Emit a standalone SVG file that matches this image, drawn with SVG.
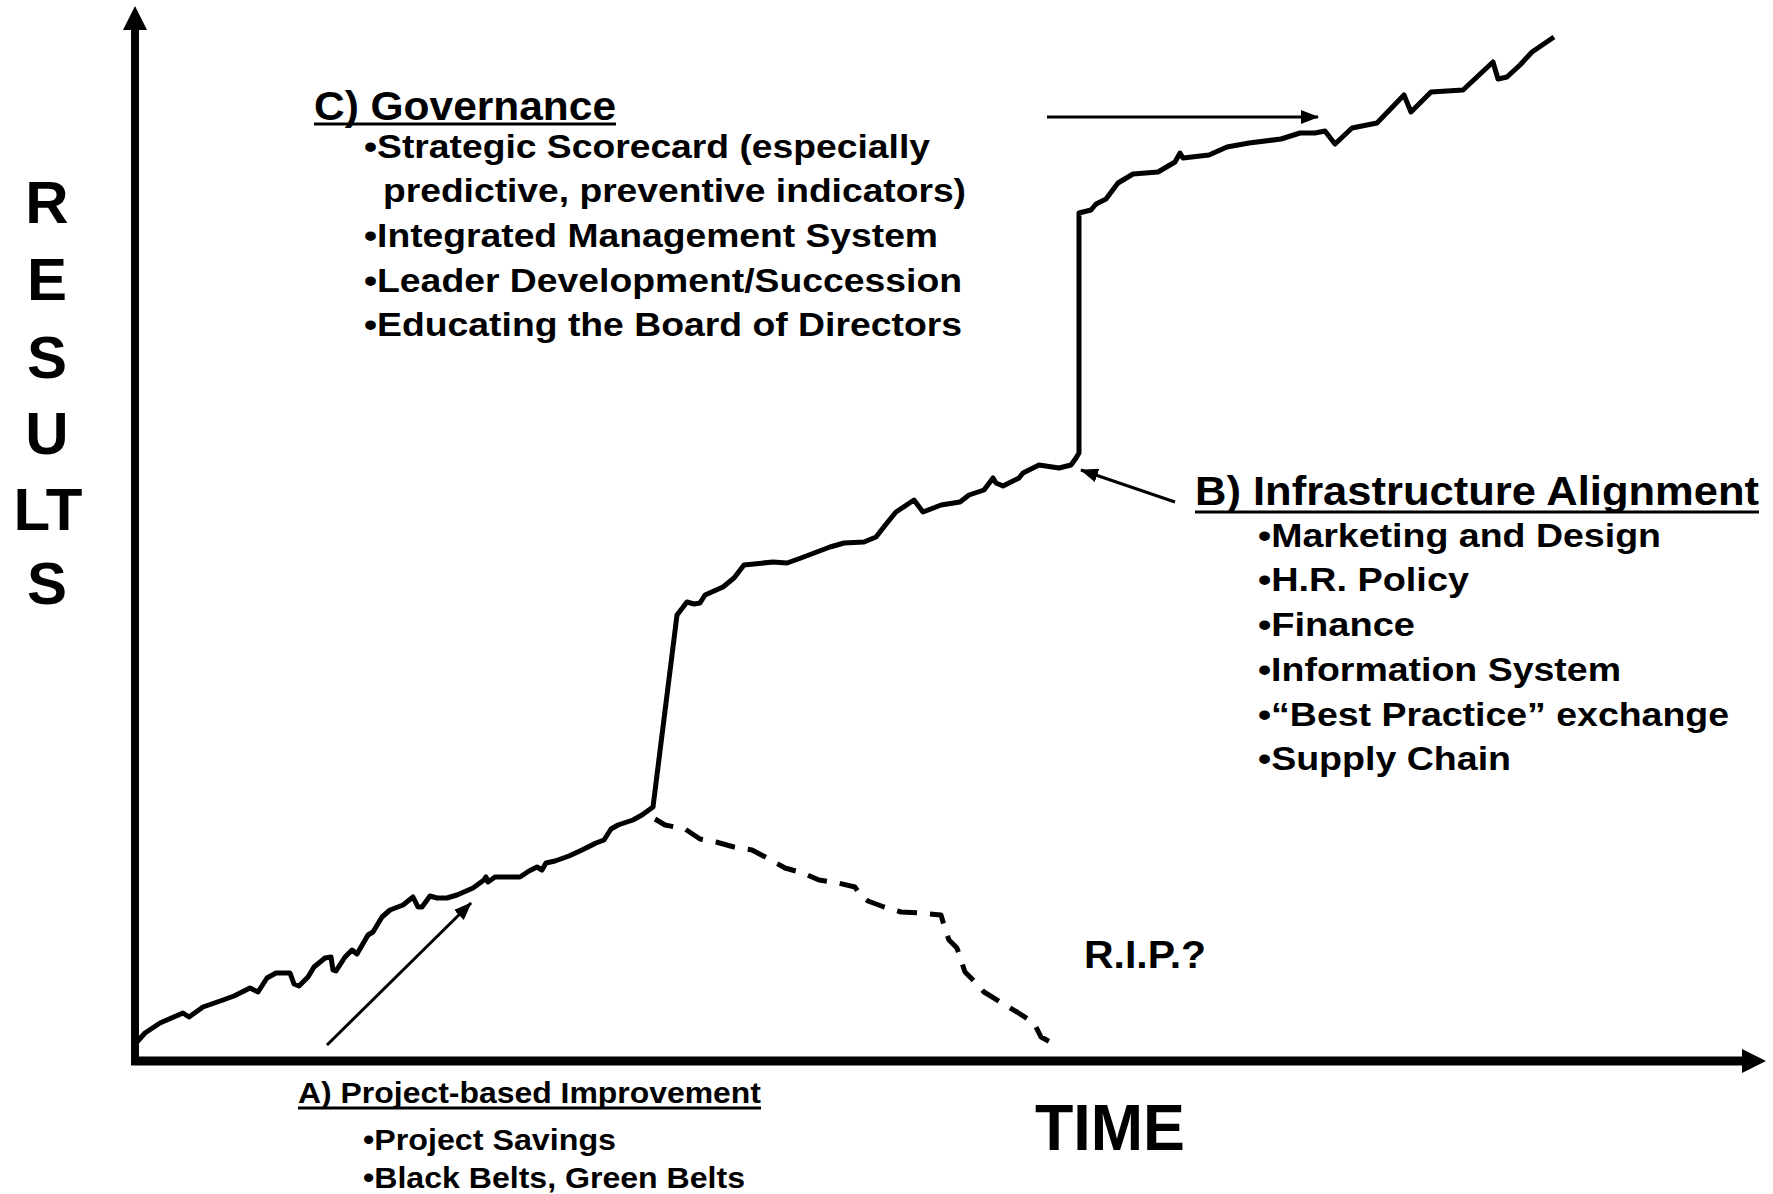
<svg xmlns="http://www.w3.org/2000/svg" width="1773" height="1194" viewBox="0 0 1773 1194">
<style>
.t{font-family:"Liberation Sans Narrow","Liberation Sans",Arial,sans-serif;font-weight:bold;fill:#000}
.w{font-family:"Liberation Sans",Arial,sans-serif;font-weight:bold;fill:#000}
.h{font-size:40px}
.b{font-size:34px}
.a{font-size:30px}
.ul{stroke:#000;stroke-width:3}
.curve{fill:none;stroke:#000;stroke-width:5;stroke-linejoin:round;stroke-linecap:butt}
.dash{fill:none;stroke:#000;stroke-width:5;stroke-dasharray:20 13;stroke-linejoin:round}
.thin{stroke:#000;stroke-width:3;fill:none}
</style>
<defs>
<marker id="ah" markerUnits="userSpaceOnUse" markerWidth="18" markerHeight="14" refX="17" refY="7" orient="auto">
<path d="M0,0 L18,7 L0,14 Z" fill="#000"/>
</marker>
</defs>
<rect width="1773" height="1194" fill="#fff"/>
<g id="axes">
<line x1="135" y1="1065" x2="135" y2="26" stroke="#000" stroke-width="8"/>
<polygon points="135,6 147,30 123,30" fill="#000"/>
<line x1="131" y1="1061" x2="1745" y2="1061" stroke="#000" stroke-width="9"/>
<polygon points="1766,1061 1742,1049 1742,1073" fill="#000"/>
</g>
<g id="results-label">
<text class="w" font-size="60" text-anchor="middle" x="47" y="223">R</text>
<text class="w" font-size="60" text-anchor="middle" x="47" y="300">E</text>
<text class="w" font-size="60" text-anchor="middle" x="47" y="378">S</text>
<text class="w" font-size="60" text-anchor="middle" x="47" y="454">U</text>
<text class="w" font-size="60" text-anchor="middle" x="48" y="530">LT</text>
<text class="w" font-size="60" text-anchor="middle" x="47" y="604">S</text>
</g>
<g id="time-label">
<text class="t" font-size="65" x="1035" y="1150" textLength="150" lengthAdjust="spacingAndGlyphs">TIME</text>
</g>
<g id="curves">
<path class="curve" d="M136,1043 L145,1033 L160,1023 L183,1013 L189,1017 L203,1007 L223,1000 L234,996 L250,988 L258,992 L267,978 L276,973 L290,973 L294,984 L299,986 L308,977 L314,967 L325,958 L331,957 L333,970 L336,971 L345,957 L352,950 L357,954 L368,935 L373,932 L382,917 L390,910 L403,905 L413,897 L418,907 L422,907 L430,896 L437,898 L447,898 L457,895 L473,888 L484,880 L486,877 L488,882 L495,877 L520,877 L529,871 L537,867 L542,870 L546,863 L555,861 L569,856 L582,850 L596,843 L604,840 L611,829 L618,825 L633,820 L642,815 L653,807 L677,615 L687,602 L694,604 L700,603 L705,595 L723,587 L734,578 L744,565 L773,562 L787,563 L801,558 L830,547 L844,543 L864,542 L876,537 L887,523 L896,512 L914,500 L923,512 L941,505 L960,502 L969,495 L984,490 L993,478 L996,483 L1003,486 L1019,478 L1023,473 L1039,465 L1059,468 L1071,465 L1076,458 L1079,453 L1079,213 L1091,210 L1096,204 L1106,199 L1118,183 L1133,174 L1158,172 L1175,162 L1180,153 L1183,158 L1209,155 L1227,147 L1249,143 L1281,139 L1300,133 L1315,133 L1325,131 L1335,144 L1352,128 L1377,123 L1404,95 L1411,112 L1431,92 L1463,90 L1493,62 L1498,79 L1507,77 L1520,65 L1532,52 L1554,37"/>
<path class="dash" d="M655,819 L665,825 L685,829 L700,839 L716,842 L734,847 L752,850 L771,860 L785,868 L803,873 L819,880 L838,883 L855,887 L860,895 L868,901 L884,907 L901,912 L920,913 L941,915 L946,932 L949,940 L957,948 L962,963 L965,972 L973,980 L984,992 L1002,1003 L1017,1012 L1034,1023 L1041,1037 L1060,1047"/>
</g>
<g id="connectors">
<line class="thin" x1="1047" y1="117" x2="1318" y2="117" marker-end="url(#ah)"/>
<line class="thin" x1="1175" y1="502" x2="1081" y2="470" marker-end="url(#ah)"/>
<line class="thin" x1="327" y1="1045" x2="471" y2="903" marker-end="url(#ah)"/>
</g>
<g id="governance">
<text class="t h" x="314" y="120" textLength="302" lengthAdjust="spacingAndGlyphs">C) Governance</text>
<line class="ul" x1="314" y1="124" x2="616" y2="124"/>
<text class="t b" x="364" y="158" textLength="566" lengthAdjust="spacingAndGlyphs">•Strategic Scorecard (especially</text>
<text class="t b" x="383" y="202" textLength="583" lengthAdjust="spacingAndGlyphs">predictive, preventive indicators)</text>
<text class="t b" x="364" y="247" textLength="574" lengthAdjust="spacingAndGlyphs">•Integrated Management System</text>
<text class="t b" x="364" y="292" textLength="598" lengthAdjust="spacingAndGlyphs">•Leader Development/Succession</text>
<text class="t b" x="364" y="336" textLength="598" lengthAdjust="spacingAndGlyphs">•Educating the Board of Directors</text>
</g>
<g id="infrastructure">
<text class="t h" x="1195" y="505" textLength="564" lengthAdjust="spacingAndGlyphs">B) Infrastructure  Alignment</text>
<line class="ul" x1="1195" y1="512" x2="1759" y2="512"/>
<text class="t b" x="1258" y="547" textLength="403" lengthAdjust="spacingAndGlyphs">•Marketing and Design</text>
<text class="t b" x="1258" y="591" textLength="211" lengthAdjust="spacingAndGlyphs">•H.R. Policy</text>
<text class="t b" x="1258" y="636" textLength="157" lengthAdjust="spacingAndGlyphs">•Finance</text>
<text class="t b" x="1258" y="681" textLength="363" lengthAdjust="spacingAndGlyphs">•Information System</text>
<text class="t b" x="1258" y="726" textLength="471" lengthAdjust="spacingAndGlyphs">•“Best Practice” exchange</text>
<text class="t b" x="1258" y="770" textLength="253" lengthAdjust="spacingAndGlyphs">•Supply Chain</text>
</g>
<g id="project">
<text class="t a" x="298" y="1103" textLength="463" lengthAdjust="spacingAndGlyphs">A) Project-based Improvement</text>
<line class="ul" x1="298" y1="1108" x2="761" y2="1108" stroke-width="2.5"/>
<text class="t a" x="363" y="1150" textLength="253" lengthAdjust="spacingAndGlyphs">•Project Savings</text>
<text class="t a" x="363" y="1188" textLength="382" lengthAdjust="spacingAndGlyphs">•Black Belts, Green Belts</text>
</g>
<g id="rip">
<text class="t" font-size="39" x="1084" y="968" textLength="122" lengthAdjust="spacingAndGlyphs">R.I.P.?</text>
</g>
</svg>
